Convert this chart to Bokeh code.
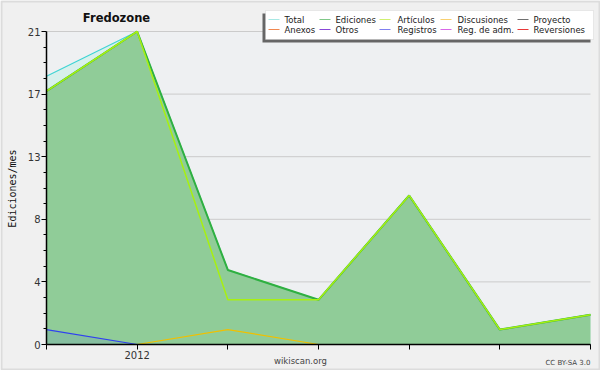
import math
from bokeh.plotting import figure
from bokeh.models import (Range1d, FixedTicker, Label, BoxAnnotation, ColumnDataSource)
from bokeh.embed import file_html
from bokeh.resources import INLINE

# ---- data ----
months = [0, 1, 2, 3, 4, 5, 6]
x_tick_labels = {0: "", 1: "2012", 2: "", 3: "", 4: "", 5: "", 6: ""}
total = [18, 21, 5, 3, 10, 1, 2]
ediciones = [17, 21, 5, 3, 10, 1, 2]
articulos = [17, 21, 3, 3, 10, 1, 2]
discusiones = [0, 0, 1, 0, 0, 0, 0]
registros = [1, 0, 0, 0, 0, 0, 0]
y_ticks = [0, 4.2, 8.4, 12.6, 16.8, 21]
y_tick_labels = ["0", "4", "8", "13", "17", "21"]
legend_names = [["Total", "Ediciones", "Artículos", "Discusiones", "Proyecto"],
                ["Anexos", "Otros", "Registros", "Reg. de adm.", "Reversiones"]]
legend_colors = [["#a8e8e4", "#80c888", "#d0f070", "#f8d070", "#707070"],
                 ["#f08850", "#8848d8", "#8080f0", "#d868e8", "#e83838"]]

W, H = 600, 370
# plot-area pixel box inside the canvas
FL, FR, FT, FB = 46, 590, 31, 344
x0, x1 = months[0], months[-1]
y0, y1 = y_ticks[0], y_ticks[-1]
kx = (FR - FL) / (x1 - x0)
ky = (FB - FT) / (y1 - y0)

p = figure(width=W, height=H, output_backend="svg", toolbar_location=None,
           x_range=Range1d(x0 - FL / kx, x1 + (W - FR) / kx),
           y_range=Range1d(y0 - (H - FB) / ky, y1 + FT / ky),
           min_border=0)
p.background_fill_color = "#f0f0f0"
p.border_fill_color = "#f0f0f0"
p.outline_line_color = None

# plot-area background
p.add_layout(BoxAnnotation(left=x0, right=x1, bottom=y0, top=y1, level="image",
                           fill_color="#eef0f2", fill_alpha=1, line_color=None))
# grid lines
p.segment(x0=[x0] * len(y_ticks), x1=[x1] * len(y_ticks), y0=y_ticks, y1=y_ticks,
          line_color="#cbcbcb", line_width=1, level="underlay")
p.xgrid.grid_line_color = None
p.ygrid.grid_line_color = None

src = ColumnDataSource(dict(x=months, total=total, ed=ediciones, art=articulos,
                            dis=discusiones, reg=registros, zero=[0] * len(months)))

p.varea(x="x", y1="zero", y2="total", source=src, fill_color="#d8f0ec", fill_alpha=1)
p.varea(x="x", y1="zero", y2="ed", source=src, fill_color="#90cc98", fill_alpha=1)
p.varea(x="x", y1="zero", y2="reg", source=src, fill_color="#4060e0", fill_alpha=0.12)
p.line(x="x", y="total", source=src, line_color="#40d4d4", line_width=1.2)
p.line(x="x", y="ed", source=src, line_color="#30b040", line_width=2)
p.line(x="x", y="art", source=src, line_color="#a8f010", line_width=1.5)
p.line(x="x", y="dis", source=src, line_color="#f0c000", line_width=1.2)
p.line(x="x", y="reg", source=src, line_color="#3040f0", line_width=1.2)

# axes drawn at fixed locations
minor = []
for i in range(len(y_ticks) - 1):
    step = (y_ticks[i + 1] - y_ticks[i]) / 4
    minor += [y_ticks[i] + step * k for k in (1, 2, 3)]
p.yaxis.ticker = FixedTicker(ticks=y_ticks, minor_ticks=minor)
p.yaxis.major_label_overrides = {t: l for t, l in zip(y_ticks, y_tick_labels)}
p.xaxis.ticker = FixedTicker(ticks=months)
p.xaxis.major_label_overrides = x_tick_labels
p.yaxis.fixed_location = x0
p.xaxis.fixed_location = y0
p.yaxis.bounds = (y0, y1)
p.xaxis.bounds = (x0, x1)
for ax in (p.xaxis, p.yaxis):
    ax.axis_line_color = "black"
    ax.axis_line_width = 1.5
    ax.major_tick_line_color = "black"
    ax.major_tick_in = 0
    ax.major_tick_out = 5
    ax.minor_tick_in = 0
    ax.minor_tick_out = 3
    ax.minor_tick_line_color = "black"
    ax.major_label_text_font = "DejaVu Sans"
    ax.major_label_text_font_size = "10px"
    ax.major_label_text_color = "#333333"
    ax.major_label_standoff = 1
p.xaxis.minor_tick_line_color = None


def sx(cx):
    return cx


def sy(cy):
    return H - cy


def label(text, cx, cy, size, align="left", baseline="middle", color="#222222",
          font="DejaVu Sans", style="normal", angle=0):
    p.add_layout(Label(x=sx(cx), y=sy(cy), x_units="screen", y_units="screen",
                       text=text, text_font_size=size, text_align=align,
                       text_baseline=baseline, text_color=color, text_font=font,
                       text_font_style=style, angle=angle))


def sbox(l, r, t, b, **kw):
    p.add_layout(BoxAnnotation(left=sx(l), right=sx(r), top=sy(t), bottom=sy(b),
                               left_units="screen", right_units="screen",
                               top_units="screen", bottom_units="screen", **kw))


label("Fredozone", 116, 17, "11.5px", align="center", style="bold", color="#111111")
label("Ediciones/mes", 12, 188, "10px", align="center", font="DejaVu Sans Mono",
      angle=math.pi / 2, color="#111111")
label("wikiscan.org", 300, 360, "8.5px", align="center", color="#444444")
label("CC BY-SA 3.0", 590, 362, "7px", align="right", color="#444444")

# legend box with shadow
sbox(262, 590, 13, 42, fill_color="#666666", fill_alpha=1, line_color=None)
sbox(265, 593, 10, 39, fill_color="#ffffff", fill_alpha=1,
     line_color="#c0c0c0", line_width=1)
line_x = [268, 319, 379, 440, 517]
text_x = [284, 335, 397, 457, 533]
row_y = [19, 29]
for r in range(2):
    for c in range(5):
        sbox(line_x[c], line_x[c] + 11, row_y[r] - 0.5, row_y[r] + 0.5,
             fill_color=legend_colors[r][c], fill_alpha=1, line_color=None)
        label(legend_names[r][c], text_x[c], row_y[r], "8.5px", color="#222222")

# outer border
sbox(1, 599, 1, 369, fill_alpha=0, line_color="#b0b0b0", line_width=2)

open("out.html", "w").write(file_html(p, INLINE))
